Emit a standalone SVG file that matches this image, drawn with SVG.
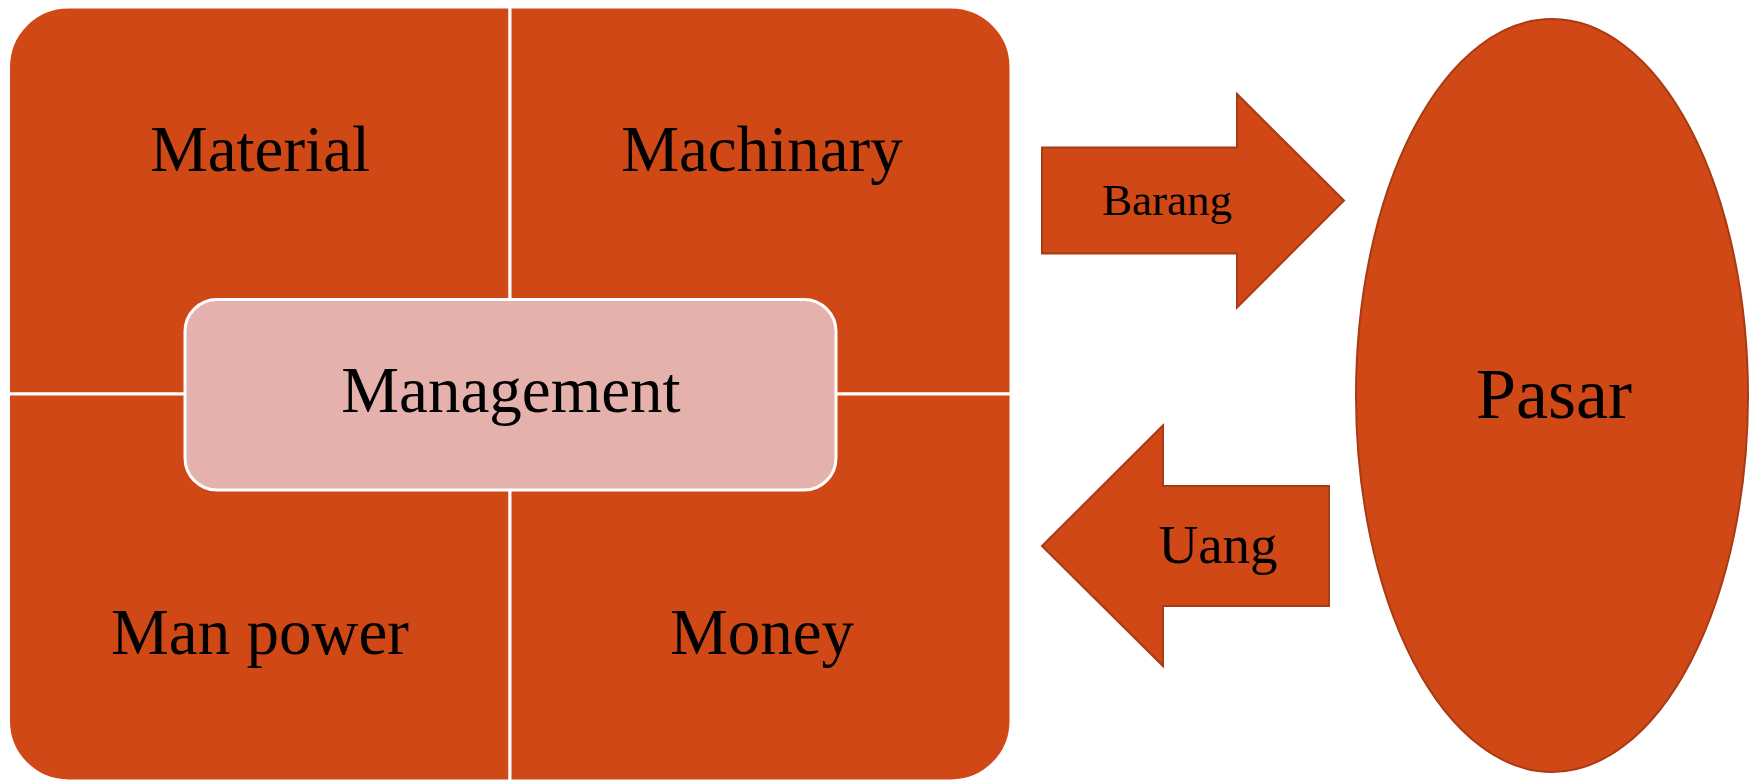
<svg xmlns="http://www.w3.org/2000/svg" width="1759" height="782" viewBox="0 0 1759 782">
  <style>
    .quad { fill: #D14817; stroke: #FFFFFF; stroke-width: 3; }
    .mgmt { fill: #E5B1AC; stroke: #FFFFFF; stroke-width: 3; }
    .shape { fill: #D14817; stroke: #A83A14; stroke-width: 2; }
    .lbl { font-family: "Liberation Serif", "DejaVu Serif", serif; fill: #000000; text-anchor: middle; }
    .big { font-size: 65px; }
  </style>
  <rect width="1759" height="782" fill="#FFFFFF"/>
  <g id="matrix">
    <g id="material">
      <path class="quad" d="M 8.5,67 A 60,60 0 0 1 68.5,7 L 510,7 L 510,394 L 8.5,394 Z"/>
      <text class="lbl big" x="260" y="171">Material</text>
    </g>
    <g id="machinary">
      <path class="quad" d="M 510,7 L 951,7 A 60,60 0 0 1 1011,67 L 1011,394 L 510,394 Z"/>
      <text class="lbl big" x="762" y="171">Machinary</text>
    </g>
    <g id="manpower">
      <path class="quad" d="M 8.5,394 L 510,394 L 510,781 L 68.5,781 A 60,60 0 0 1 8.5,721 Z"/>
      <text class="lbl big" x="260" y="654">Man power</text>
    </g>
    <g id="money">
      <path class="quad" d="M 510,394 L 1011,394 L 1011,721 A 60,60 0 0 1 951,781 L 510,781 Z"/>
      <text class="lbl big" x="762" y="654">Money</text>
    </g>
    <g id="management">
      <rect class="mgmt" x="185" y="299.5" width="651" height="190.5" rx="32" ry="32"/>
      <text class="lbl big" x="511" y="412">Management</text>
    </g>
  </g>
  <g id="connectors">
    <g id="barang">
      <polygon class="shape" points="1042,147.5 1237,147.5 1237,94 1344,200.5 1237,307.5 1237,253.5 1042,253.5"/>
      <text class="lbl" font-size="45" x="1167" y="215">Barang</text>
    </g>
    <g id="uang">
      <polygon class="shape" points="1042,546 1163,425.5 1163,486 1329,486 1329,606 1163,606 1163,666"/>
      <text class="lbl" font-size="55" x="1218" y="563">Uang</text>
    </g>
  </g>
  <g id="pasar">
    <ellipse class="shape" cx="1552" cy="395.5" rx="196" ry="376.5"/>
    <text class="lbl" font-size="72" x="1554" y="418">Pasar</text>
  </g>
</svg>
